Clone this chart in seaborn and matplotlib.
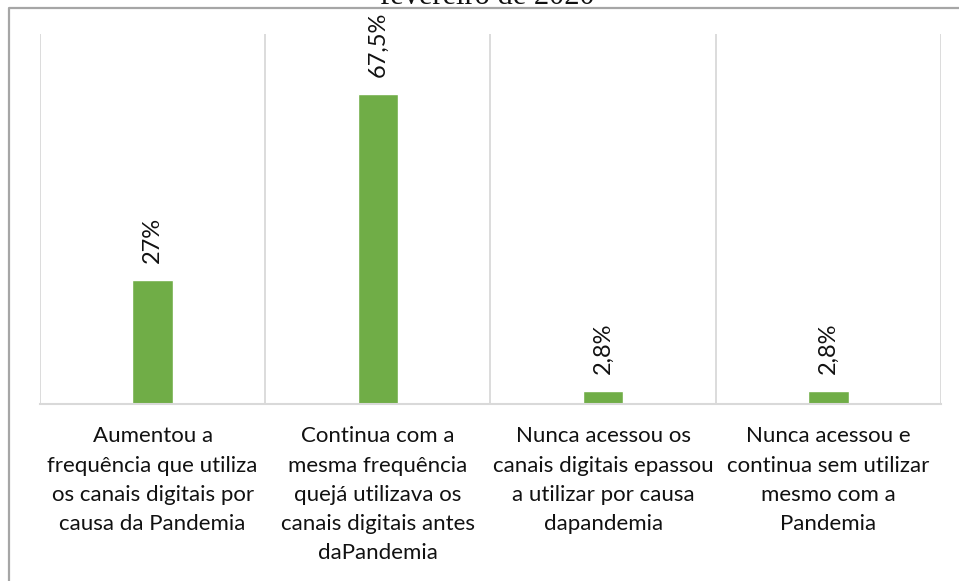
import matplotlib
matplotlib.use("Agg")
import matplotlib.pyplot as plt
import seaborn as sns
import pandas as pd
from matplotlib.lines import Line2D

# Dados do gráfico
categorias = [
    "Aumentou a\nfrequência que utiliza\nos canais digitais por\ncausa da Pandemia",
    "Continua com a\nmesma frequência\nquejá utilizava os\ncanais digitais antes\ndaPandemia",
    "Nunca acessou os\ncanais digitais epassou\na utilizar por causa\ndapandemia",
    "Nunca acessou e\ncontinua sem utilizar\nmesmo com a\nPandemia",
]
valores = [27, 67.5, 2.8, 2.8]
rotulos = ["27%", "67,5%", "2,8%", "2,8%"]
titulo = "fevereiro de 2020"

sns.set_theme(style="white")
plt.rcParams['font.family'] = ['Lato', 'DejaVu Sans']

df = pd.DataFrame({"Categoria": categorias, "Valor": valores})

W, H = 959, 581
fig = plt.figure(figsize=(W / 100, H / 100), dpi=100)
fig.patch.set_facecolor("white")
ax = fig.add_axes([40 / W, 1 - 404 / H, 901 / W, 370 / H])

sns.barplot(data=df, x="Categoria", y="Valor", color="#70AD47", width=0.18,
            saturation=1, ax=ax)

ax.set_xlim(-0.5, 3.5)
ax.set_ylim(0, 80.6)
ax.set_xlabel("")
ax.set_ylabel("")
ax.set_yticks([])

# linhas de grade verticais entre categorias
for b in [-0.5, 0.5, 1.5, 2.5, 3.5]:
    ax.axvline(b, color="#D9D9D9", lw=1.3, zorder=0)

for s in ["top", "left", "right"]:
    ax.spines[s].set_visible(False)
ax.spines["bottom"].set_color("#D9D9D9")
ax.spines["bottom"].set_linewidth(1.5)

ax.tick_params(axis="x", length=0, pad=16)
ax.set_xticks(range(len(categorias)))
ax.set_xticklabels(categorias, fontsize=16, color="#111111", linespacing=1.58)

# rótulos de valor
for i, (v, r) in enumerate(zip(valores, rotulos)):
    ax.annotate(r, (i, v), xytext=(0, 12), textcoords="offset points",
                rotation=90, ha="center", va="bottom", fontsize=17, color="#111111")

# borda externa (parcial) e título cortado
fig.add_artist(Line2D([9 / W, 9 / W, 1], [0, 1 - 8 / H, 1 - 8 / H],
                      transform=fig.transFigure, color="#A6A6A6", lw=1.6))
fig.text(487 / W, 1 - 4 / H, titulo, ha="center", va="baseline",
         family="Liberation Serif", fontsize=22, color="#111111")

fig.savefig("out.png", dpi=100)
